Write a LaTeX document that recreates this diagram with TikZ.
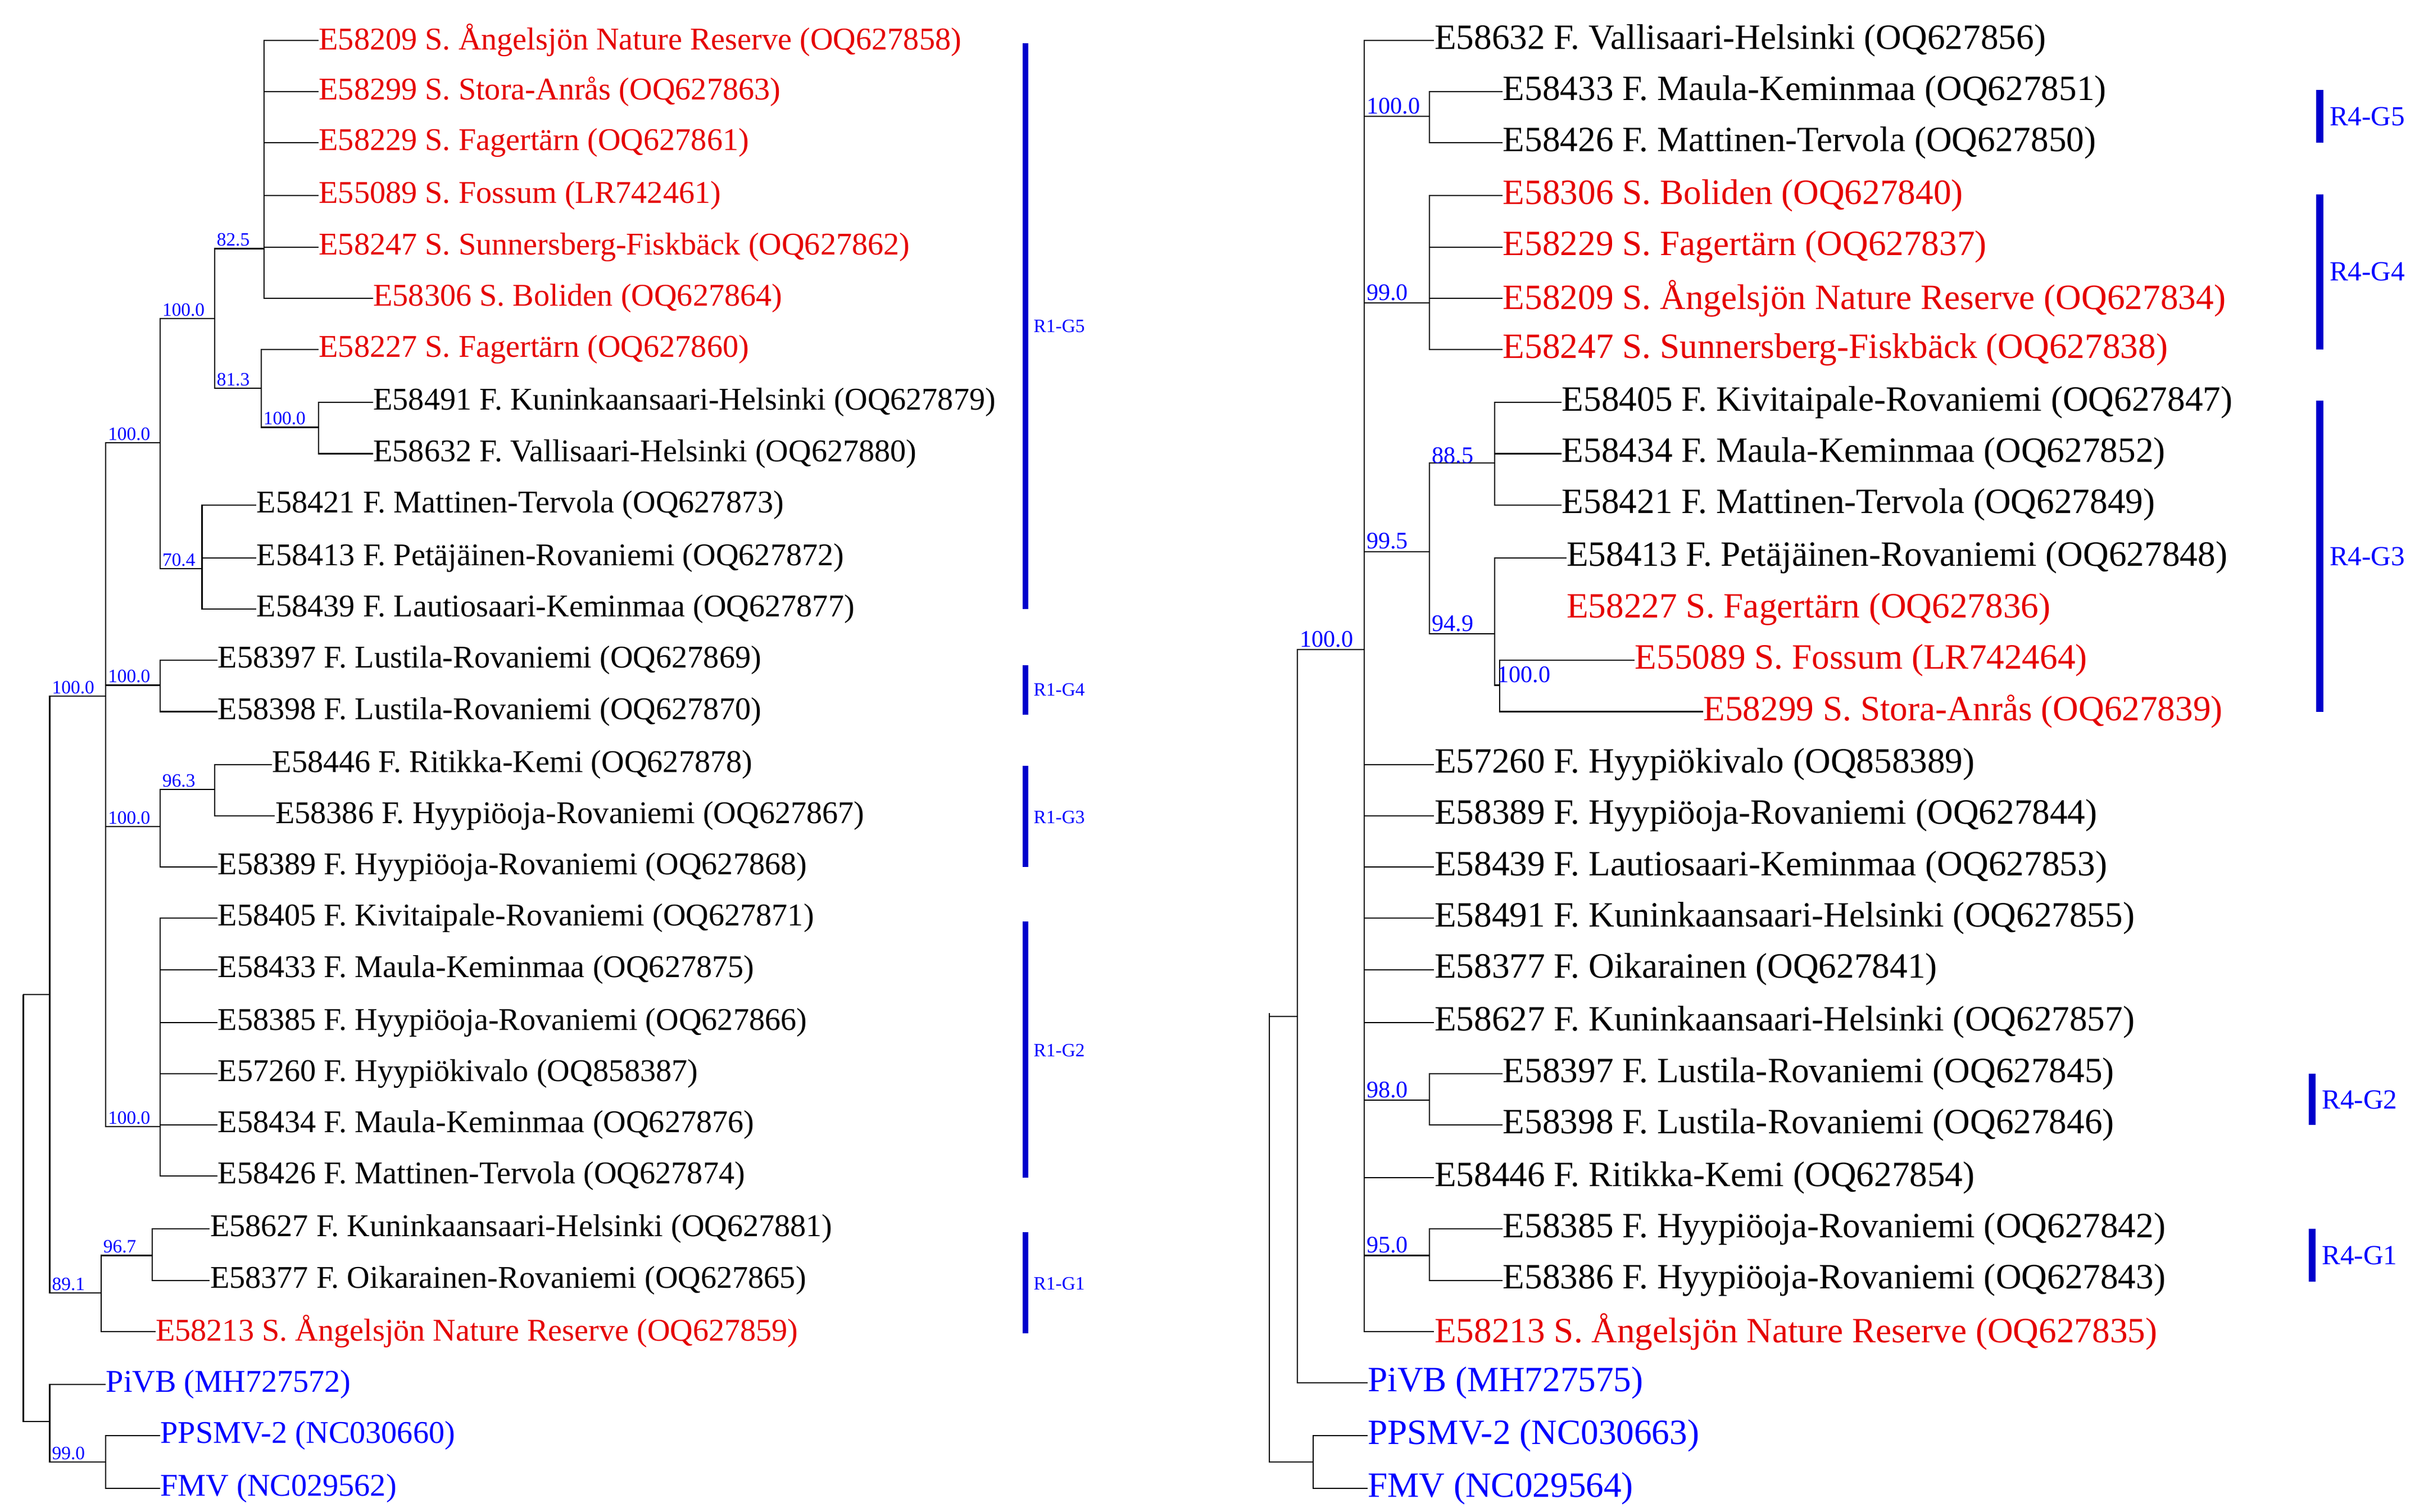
\documentclass[tikz,border=0pt]{standalone}
\usepackage{fontspec}
\setmainfont{Liberation Serif}
\begin{document}
\begin{tikzpicture}[x=0.027654cm,y=-0.027654cm,
 lf/.style={anchor=west,inner sep=0pt,font=\fontsize{16}{16}\selectfont},
 rf/.style={anchor=west,inner sep=0pt,font=\fontsize{18}{18}\selectfont},
 red/.style={text=red!90!black}, blu/.style={text=blue},
 bs/.style={anchor=south west,inner sep=1pt,text=blue,font=\fontsize{9.5}{9.5}\selectfont},
 bsr/.style={anchor=south west,inner sep=1pt,text=blue,font=\fontsize{12}{12}\selectfont},
 br/.style={line width=0.6pt},
 bar/.style={line width=3pt,draw=blue!80!black},
 barr/.style={line width=3.6pt,draw=blue!80!black},
 gl/.style={anchor=west,text=blue,inner sep=0pt,font=\fontsize{9.5}{9.5}\selectfont},
 glr/.style={anchor=west,text=blue,inner sep=0pt,font=\fontsize{14}{14}\selectfont}]
\useasboundingbox (0,0) rectangle (1560,973);
% ===== LEFT TREE =====
\node[lf,red] (a1) at (205,26) {E58209 S. Ångelsjön Nature Reserve (OQ627858)};
\node[lf,red] (a2) at (205,59) {E58299 S. Stora-Anrås (OQ627863)};
\node[lf,red] (a3) at (205,92) {E58229 S. Fagertärn (OQ627861)};
\node[lf,red] (a4) at (205,126) {E55089 S. Fossum (LR742461)};
\node[lf,red] (a5) at (205,159) {E58247 S. Sunnersberg-Fiskbäck (OQ627862)};
\node[lf,red] (a6) at (240,192) {E58306 S. Boliden (OQ627864)};
\node[lf,red] (a7) at (205,225) {E58227 S. Fagertärn (OQ627860)};
\node[lf] (a8) at (240,259) {E58491 F. Kuninkaansaari-Helsinki (OQ627879)};
\node[lf] (a9) at (240,292) {E58632 F. Vallisaari-Helsinki (OQ627880)};
\node[lf] (a10) at (165,325) {E58421 F. Mattinen-Tervola (OQ627873)};
\node[lf] (a11) at (165,359) {E58413 F. Petäjäinen-Rovaniemi (OQ627872)};
\node[lf] (a12) at (165,392) {E58439 F. Lautiosaari-Keminmaa (OQ627877)};
\node[lf] (a13) at (140,425) {E58397 F. Lustila-Rovaniemi (OQ627869)};
\node[lf] (a14) at (140,458) {E58398 F. Lustila-Rovaniemi (OQ627870)};
\node[lf] (a15) at (175,492) {E58446 F. Ritikka-Kemi (OQ627878)};
\node[lf] (a16) at (177,525) {E58386 F. Hyypiöoja-Rovaniemi (OQ627867)};
\node[lf] (a17) at (140,558) {E58389 F. Hyypiöoja-Rovaniemi (OQ627868)};
\node[lf] (a18) at (140,591) {E58405 F. Kivitaipale-Rovaniemi (OQ627871)};
\node[lf] (a19) at (140,624) {E58433 F. Maula-Keminmaa (OQ627875)};
\node[lf] (a20) at (140,658) {E58385 F. Hyypiöoja-Rovaniemi (OQ627866)};
\node[lf] (a21) at (140,691) {E57260 F. Hyypiökivalo (OQ858387)};
\node[lf] (a22) at (140,724) {E58434 F. Maula-Keminmaa (OQ627876)};
\node[lf] (a23) at (140,757) {E58426 F. Mattinen-Tervola (OQ627874)};
\node[lf] (a24) at (135,791) {E58627 F. Kuninkaansaari-Helsinki (OQ627881)};
\node[lf] (a25) at (135,824) {E58377 F. Oikarainen-Rovaniemi (OQ627865)};
\node[lf,red] (a26) at (100,857) {E58213 S. Ångelsjön Nature Reserve (OQ627859)};
\node[lf,blu] (a27) at (68,891) {PiVB (MH727572)};
\node[lf,blu] (a28) at (103,924) {PPSMV-2 (NC030660)};
\node[lf,blu] (a29) at (103,958) {FMV (NC029562)};
\coordinate (root) at (15,640);
\coordinate (A) at (32,640);
\coordinate (B) at (32,915);
\coordinate (C) at (68,448);
\coordinate (D) at (65,832);
\coordinate (E) at (98,808);
\coordinate (F) at (103,285);
\coordinate (G) at (103,441);
\coordinate (H) at (103,532);
\coordinate (I) at (103,725);
\coordinate (J) at (138,205);
\coordinate (K) at (130,366);
\coordinate (L) at (170,160);
\coordinate (M) at (168,250);
\coordinate (N) at (205,275);
\coordinate (O) at (138,508);
\coordinate (P) at (68,941);
\begin{scope}[br]
\draw (root) |- (A); \draw (root) |- (B);
\draw (A) |- (C); \draw (A) |- (D);
\draw (D) |- (E); \draw (D) |- (a26.west);
\draw (E) |- (a24.west); \draw (E) |- (a25.west);
\foreach \n in {F,G,H,I} \draw (C) |- (\n);
\draw (F) |- (J); \draw (F) |- (K);
\foreach \n in {a10,a11,a12} \draw (K) |- (\n.west);
\draw (J) |- (L); \draw (J) |- (M);
\foreach \n in {a1,a2,a3,a4,a5,a6} \draw (L) |- (\n.west);
\draw (M) |- (a7.west); \draw (M) |- (N);
\draw (N) |- (a8.west); \draw (N) |- (a9.west);
\draw (G) |- (a13.west); \draw (G) |- (a14.west);
\draw (H) |- (O); \draw (H) |- (a17.west);
\draw (O) |- (a15.west); \draw (O) |- (a16.west);
\foreach \n in {a18,a19,a20,a21,a22,a23} \draw (I) |- (\n.west);
\draw (B) |- (a27.west); \draw (B) |- (P);
\draw (P) |- (a28.west); \draw (P) |- (a29.west);
\end{scope}
\node[bs] at (32,448) {100.0};
\node[bs] at (32,832) {89.1};
\node[bs] at (65,808) {96.7};
\node[bs] at (68,285) {100.0};
\node[bs] at (68,441) {100.0};
\node[bs] at (68,532) {100.0};
\node[bs] at (68,725) {100.0};
\node[bs] at (103,205) {100.0};
\node[bs] at (103,366) {70.4};
\node[bs] at (138,160) {82.5};
\node[bs] at (138,250) {81.3};
\node[bs] at (168,275) {100.0};
\node[bs] at (103,508) {96.3};
\node[bs] at (32,941) {99.0};
\draw[bar] (660,28) -- (660,392); \node[gl] at (665,210) {R1-G5};
\draw[bar] (660,428) -- (660,460); \node[gl] at (665,444) {R1-G4};
\draw[bar] (660,493) -- (660,558); \node[gl] at (665,526) {R1-G3};
\draw[bar] (660,593) -- (660,758); \node[gl] at (665,676) {R1-G2};
\draw[bar] (660,793) -- (660,858); \node[gl] at (665,826) {R1-G1};
% ===== RIGHT TREE =====
\node[rf] (b1) at (923,26) {E58632 F. Vallisaari-Helsinki (OQ627856)};
\node[rf] (b2) at (967,59) {E58433 F. Maula-Keminmaa (OQ627851)};
\node[rf] (b3) at (967,92) {E58426 F. Mattinen-Tervola (OQ627850)};
\node[rf,red] (b4) at (967,126) {E58306 S. Boliden (OQ627840)};
\node[rf,red] (b5) at (967,159) {E58229 S. Fagertärn (OQ627837)};
\node[rf,red] (b6) at (967,192) {E58209 S. Ångelsjön Nature Reserve (OQ627834)};
\node[rf,red] (b7) at (967,225) {E58247 S. Sunnersberg-Fiskbäck (OQ627838)};
\node[rf] (b8) at (1005,259) {E58405 F. Kivitaipale-Rovaniemi (OQ627847)};
\node[rf] (b9) at (1005,292) {E58434 F. Maula-Keminmaa (OQ627852)};
\node[rf] (b10) at (1005,325) {E58421 F. Mattinen-Tervola (OQ627849)};
\node[rf] (b11) at (1008,359) {E58413 F. Petäjäinen-Rovaniemi (OQ627848)};
\node[rf,red] (b12) at (1008,392) {E58227 S. Fagertärn (OQ627836)};
\node[rf,red] (b13) at (1052,425) {E55089 S. Fossum (LR742464)};
\node[rf,red] (b14) at (1096,458) {E58299 S. Stora-Anrås (OQ627839)};
\node[rf] (b15) at (923,492) {E57260 F. Hyypiökivalo (OQ858389)};
\node[rf] (b16) at (923,525) {E58389 F. Hyypiöoja-Rovaniemi (OQ627844)};
\node[rf] (b17) at (923,558) {E58439 F. Lautiosaari-Keminmaa (OQ627853)};
\node[rf] (b18) at (923,591) {E58491 F. Kuninkaansaari-Helsinki (OQ627855)};
\node[rf] (b19) at (923,624) {E58377 F. Oikarainen (OQ627841)};
\node[rf] (b20) at (923,658) {E58627 F. Kuninkaansaari-Helsinki (OQ627857)};
\node[rf] (b21) at (967,691) {E58397 F. Lustila-Rovaniemi (OQ627845)};
\node[rf] (b22) at (967,724) {E58398 F. Lustila-Rovaniemi (OQ627846)};
\node[rf] (b23) at (923,758) {E58446 F. Ritikka-Kemi (OQ627854)};
\node[rf] (b24) at (967,791) {E58385 F. Hyypiöoja-Rovaniemi (OQ627842)};
\node[rf] (b25) at (967,824) {E58386 F. Hyypiöoja-Rovaniemi (OQ627843)};
\node[rf,red] (b26) at (923,857) {E58213 S. Ångelsjön Nature Reserve (OQ627835)};
\node[rf,blu] (b27) at (880,890) {PiVB (MH727575)};
\node[rf,blu] (b28) at (880,924) {PPSMV-2 (NC030663)};
\node[rf,blu] (b29) at (880,958) {FMV (NC029564)};
\coordinate (rr) at (817,652);
\coordinate (Q) at (835,654);
\coordinate (Q2) at (845,941);
\coordinate (R) at (878,418);
\coordinate (S) at (920,75);
\coordinate (T) at (920,195);
\coordinate (U) at (920,355);
\coordinate (X) at (962,298);
\coordinate (Y) at (962,408);
\coordinate (Z) at (965,441);
\coordinate (V) at (920,708);
\coordinate (W) at (920,808);
\begin{scope}[br]
\draw (rr) |- (Q); \draw (rr) |- (Q2);
\draw (Q) |- (R); \draw (Q) |- (b27.west);
\draw (Q2) |- (b28.west); \draw (Q2) |- (b29.west);
\foreach \n in {b1,b15,b16,b17,b18,b19,b20,b23,b26} \draw (R) |- (\n.west);
\foreach \n in {S,T,U,V,W} \draw (R) |- (\n);
\draw (S) |- (b2.west); \draw (S) |- (b3.west);
\foreach \n in {b4,b5,b6,b7} \draw (T) |- (\n.west);
\draw (U) |- (X); \draw (U) |- (Y);
\foreach \n in {b8,b9,b10} \draw (X) |- (\n.west);
\draw (Y) |- (b11.west); \draw (Y) |- (Z);
\draw (Z) |- (b13.west); \draw (Z) |- (b14.west);
\draw (V) |- (b21.west); \draw (V) |- (b22.west);
\draw (W) |- (b24.west); \draw (W) |- (b25.west);
\end{scope}
\node[bsr] at (835,418) {100.0};
\node[bsr] at (878,75) {100.0};
\node[bsr] at (878,195) {99.0};
\node[bsr] at (878,355) {99.5};
\node[bsr] at (920,300) {88.5};
\node[bsr] at (920,408) {94.9};
\node[bsr] at (962,441) {100.0};
\node[bsr] at (878,708) {98.0};
\node[bsr] at (878,808) {95.0};
\draw[barr] (1493,58) -- (1493,92); \node[glr] at (1499,75) {R4-G5};
\draw[barr] (1493,125) -- (1493,225); \node[glr] at (1499,175) {R4-G4};
\draw[barr] (1493,258) -- (1493,458); \node[glr] at (1499,358) {R4-G3};
\draw[barr] (1488,691) -- (1488,724); \node[glr] at (1494,708) {R4-G2};
\draw[barr] (1488,791) -- (1488,825); \node[glr] at (1494,808) {R4-G1};
\end{tikzpicture}
\end{document}
